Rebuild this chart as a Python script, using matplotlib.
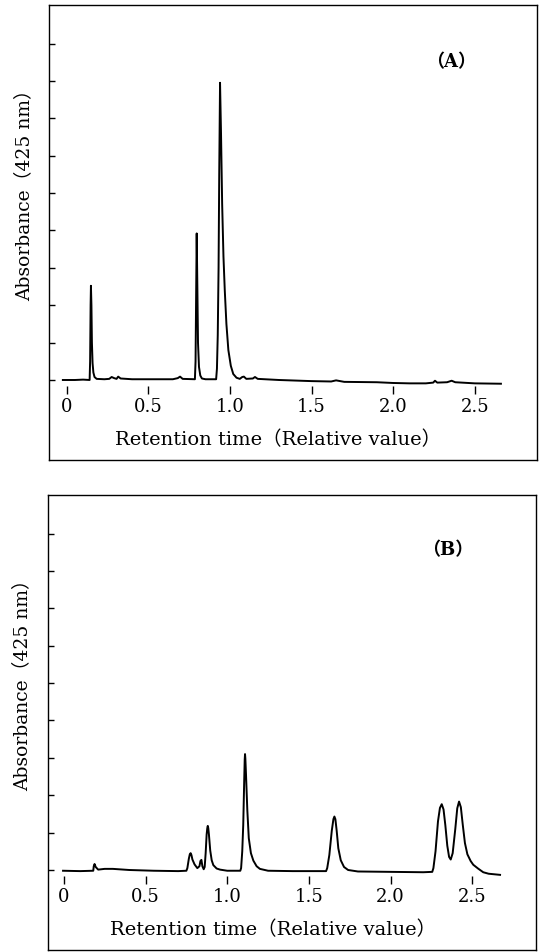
import matplotlib
matplotlib.use("Agg")
import matplotlib.pyplot as plt

plt.rcParams['font.family'] = ['DejaVu Serif', 'Noto Sans CJK JP']

# panel A trace (retention time, absorbance in tick units)
time_a = [-0.024, 0.05, 0.10, 0.140, 0.143, 0.146, 0.148, 0.151, 0.154, 0.158,
          0.163, 0.170, 0.183, 0.23, 0.26, 0.275, 0.29, 0.305, 0.315, 0.33,
          0.40, 0.55, 0.65, 0.68, 0.694, 0.71, 0.785, 0.789, 0.792, 0.796,
          0.800, 0.804, 0.810, 0.818, 0.828, 0.85, 0.915, 0.920, 0.925, 0.930,
          0.934, 0.939, 0.945, 0.952, 0.960, 0.968, 0.978, 0.990, 1.005, 1.02,
          1.04, 1.06, 1.075, 1.085, 1.10, 1.14, 1.153, 1.17, 1.30, 1.50,
          1.62, 1.65, 1.70, 1.90, 2.00, 2.10, 2.20, 2.245, 2.256, 2.27,
          2.33, 2.358, 2.38, 2.50, 2.66]
abs_a = [0.0, 0.0, 0.01, 0.0, 0.5, 2.0, 2.52, 2.0, 1.0, 0.45,
         0.2, 0.08, 0.03, 0.02, 0.03, 0.08, 0.05, 0.03, 0.09, 0.04,
         0.02, 0.02, 0.02, 0.05, 0.09, 0.03, 0.02, 0.5, 2.0, 3.92,
         2.5, 1.0, 0.35, 0.12, 0.04, 0.02, 0.02, 0.3, 1.2, 3.0,
         5.5, 7.95, 6.6, 4.7, 3.3, 2.4, 1.5, 0.8, 0.38, 0.16,
         0.06, 0.03, 0.08, 0.09, 0.03, 0.04, 0.08, 0.03, 0.0, -0.03,
         -0.04, -0.01, -0.05, -0.06, -0.08, -0.09, -0.09, -0.07, -0.02, -0.07,
         -0.06, -0.02, -0.06, -0.09, -0.10]

# panel B trace
time_b = [-0.005, 0.10, 0.18, 0.183, 0.188, 0.195, 0.21, 0.25, 0.30, 0.40,
          0.55, 0.70, 0.750, 0.756, 0.765, 0.771, 0.776, 0.781, 0.787, 0.800,
          0.817, 0.830, 0.836, 0.842, 0.848, 0.856, 0.862, 0.868, 0.874, 0.878,
          0.881, 0.884, 0.888, 0.896, 0.905, 0.915, 0.935, 0.956, 1.00, 1.08,
          1.085, 1.092, 1.098, 1.104, 1.107, 1.109, 1.111, 1.115, 1.123, 1.132,
          1.145, 1.160, 1.180, 1.20, 1.25, 1.40, 1.605, 1.612, 1.625, 1.640,
          1.650, 1.656, 1.662, 1.670, 1.680, 1.695, 1.715, 1.74, 1.80, 2.00,
          2.20, 2.255, 2.262, 2.275, 2.290, 2.302, 2.313, 2.324, 2.335, 2.347,
          2.358, 2.368, 2.380, 2.396, 2.408, 2.419, 2.430, 2.442, 2.455, 2.470,
          2.490, 2.506, 2.535, 2.567, 2.60, 2.67]
abs_b = [-0.02, -0.03, -0.02, 0.10, 0.16, 0.08, 0.01, 0.03, 0.03, 0.0,
         -0.02, -0.03, -0.02, 0.05, 0.30, 0.42, 0.45, 0.40, 0.28, 0.15,
         0.05, 0.10, 0.24, 0.27, 0.10, 0.02, 0.08, 0.45, 0.95, 1.12,
         1.18, 1.12, 0.95, 0.52, 0.26, 0.13, 0.04, 0.01, -0.02, -0.02,
         0.05, 0.50, 1.20, 2.40, 2.95, 3.10, 2.98, 2.55, 1.60, 0.85,
         0.45, 0.25, 0.10, 0.03, -0.02, -0.03, -0.03, 0.05, 0.40, 1.05,
         1.36, 1.43, 1.36, 1.05, 0.58, 0.26, 0.08, 0.0, -0.04, -0.05,
         -0.06, -0.05, 0.05, 0.50, 1.30, 1.66, 1.76, 1.62, 1.20, 0.65,
         0.35, 0.28, 0.45, 1.10, 1.65, 1.83, 1.68, 1.20, 0.72, 0.42,
         0.24, 0.14, 0.04, -0.06, -0.10, -0.13]

xticks = [0, 0.5, 1.0, 1.5, 2.0, 2.5]
xticklabels = ['0', '0.5', '1.0', '1.5', '2.0', '2.5']
yticks = [0, 1, 2, 3, 4, 5, 6, 7, 8, 9]

W, H = 539, 952
fig = plt.figure(figsize=(W / 100, H / 100), dpi=100)


def panel(box, xlim, ylim, t, a, tag, tag_pos, xlab_pos, ylab_xy):
    left, right, top, bottom = box
    ax = fig.add_axes([left / W, (H - bottom) / H, (right - left) / W, (bottom - top) / H])
    ax.plot(t, a, color='black', lw=1.4)
    ax.set_xlim(*xlim)
    ax.set_ylim(*ylim)
    for s in ax.spines.values():
        s.set_linewidth(1.0)
    ax.set_xticks([])
    ax.set_yticks(yticks)
    ax.tick_params(axis='y', direction='in', length=4, width=1, labelleft=False)
    # floating x axis just under the baseline
    frac = (ylim[0] - 0) / (ylim[0] - ylim[1])
    sec = ax.secondary_xaxis(frac - 0.013)
    sec.spines['bottom'].set_visible(False)
    sec.set_xticks(xticks)
    sec.set_xticklabels(xticklabels)
    sec.tick_params(direction='out', length=6, width=1, pad=3, labelsize=13)
    ax.text(*xlab_pos, 'Retention time（Relative value）', transform=ax.transAxes,
            ha='center', va='center', fontsize=14)
    ax.text(*tag_pos, '（' + tag + '）', transform=ax.transAxes,
            ha='center', va='center', fontsize=13, fontweight='bold')
    fig.text(ylab_xy[0] / W, 1 - ylab_xy[1] / H, 'Absorbance（425 nm）',
             rotation=90, ha='center', va='center', fontsize=13.5)
    return ax


panel((48.5, 537, 5, 460), (-0.112, 2.881), (-2.14, 10.03), time_a, abs_a,
      'A', (0.825, 0.874), (0.47, 0.045), (24, 191))
panel((48, 536, 495, 950), (-0.097, 2.890), (-2.14, 10.03), time_b, abs_b,
      'B', (0.818, 0.879), (0.461, 0.044), (22, 681))

fig.savefig('out.png', dpi=100)
